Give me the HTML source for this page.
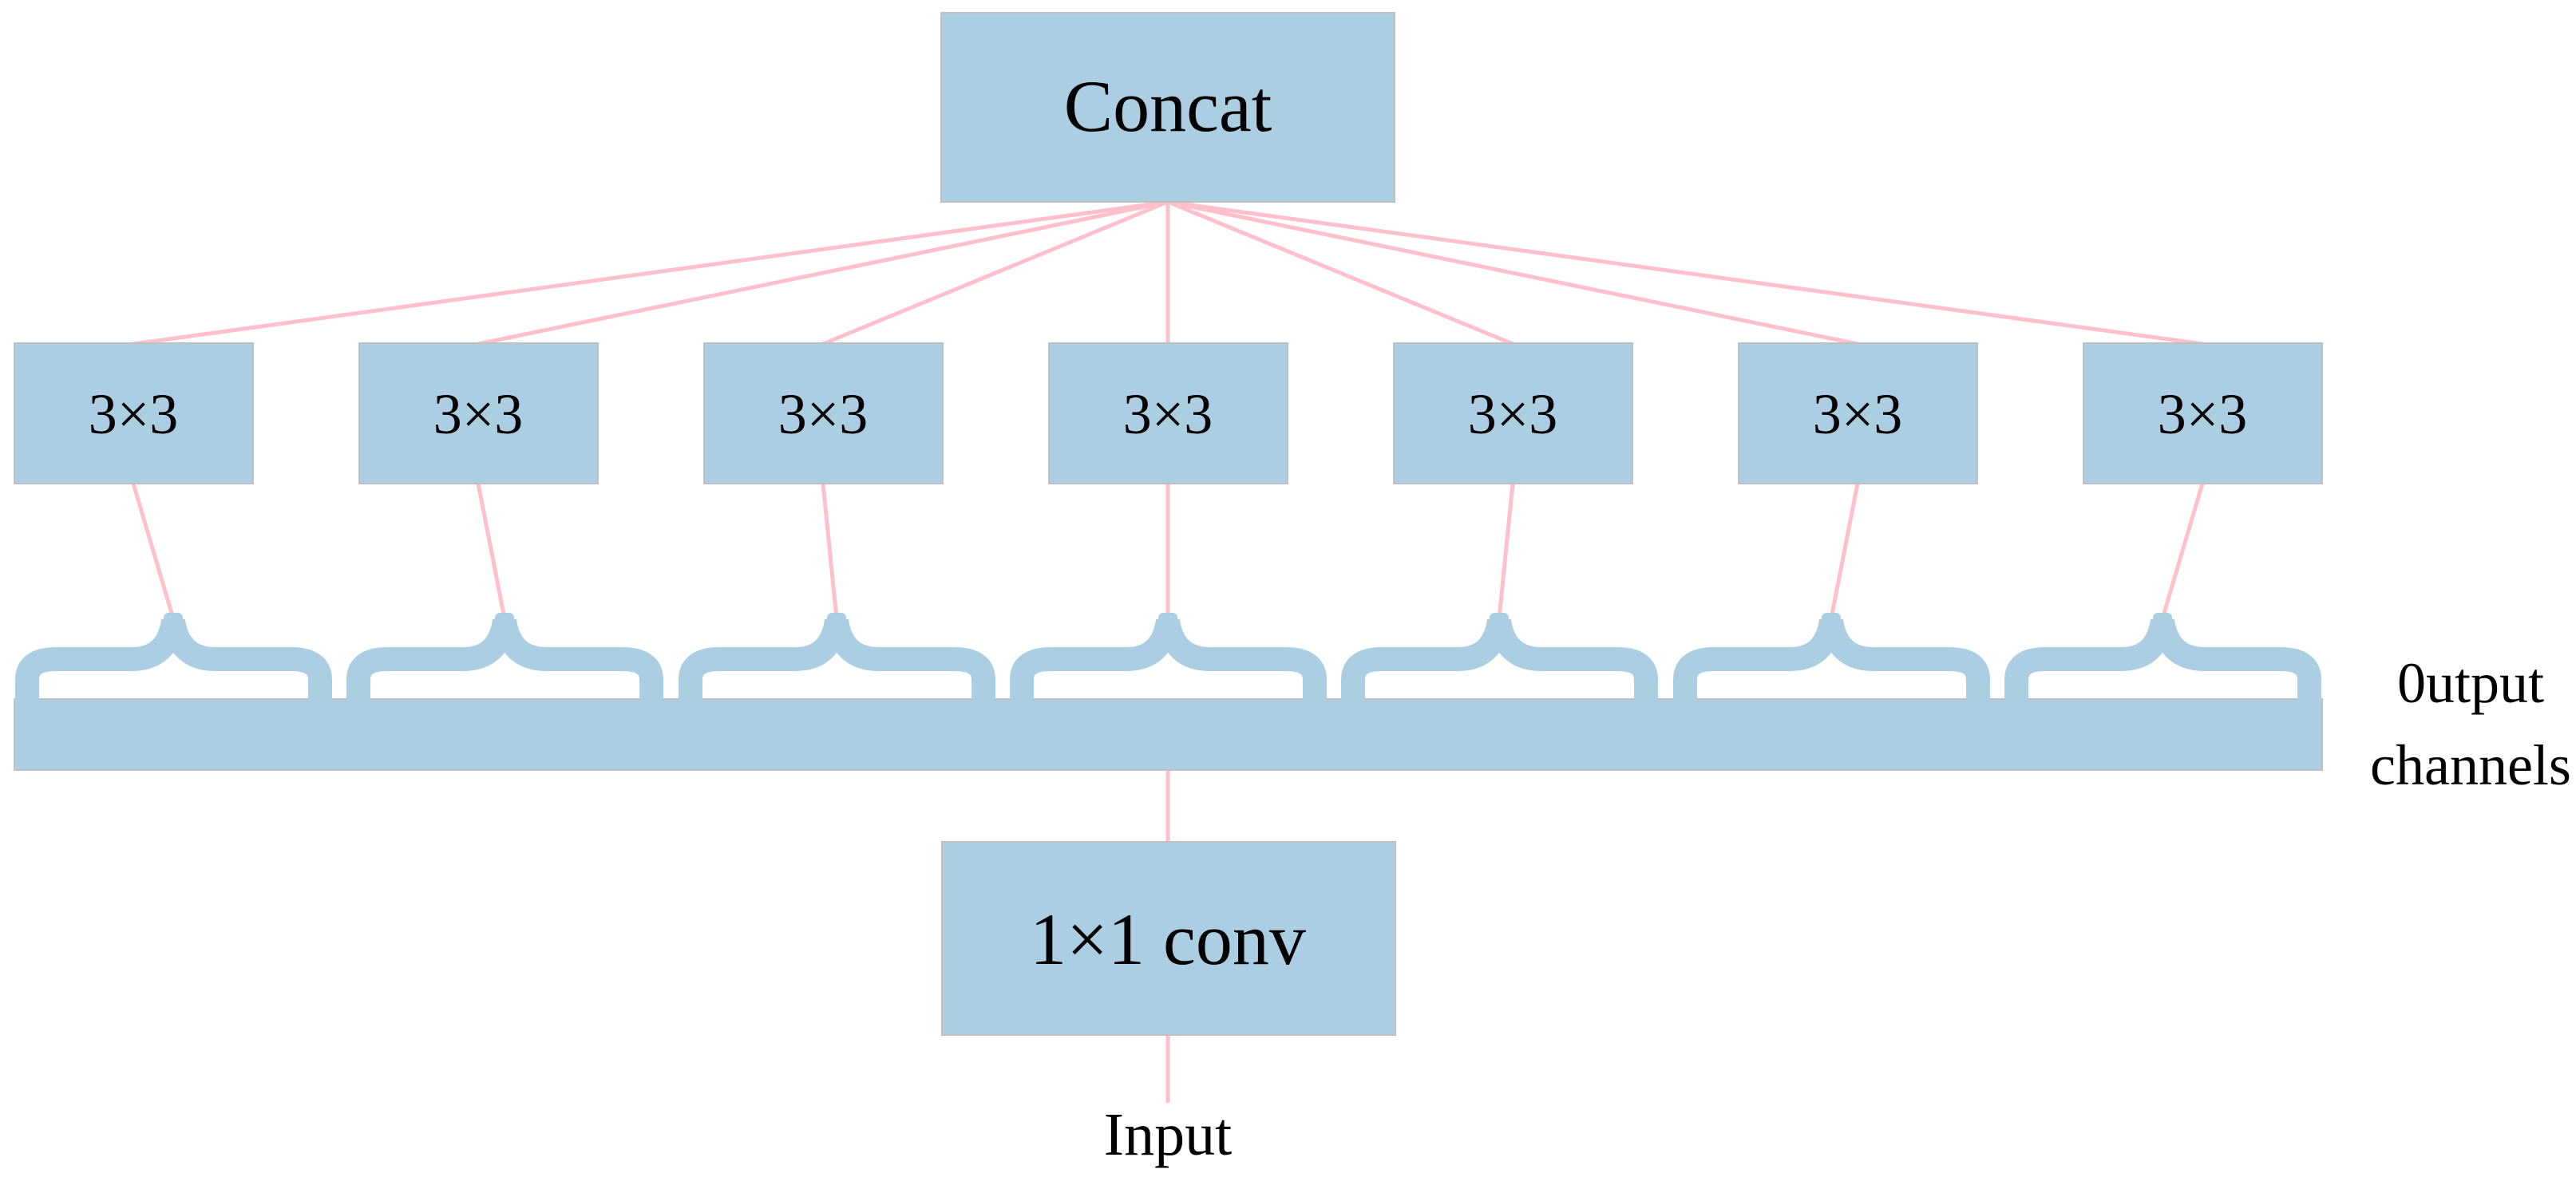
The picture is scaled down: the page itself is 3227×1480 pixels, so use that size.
<!DOCTYPE html>
<html><head><meta charset="utf-8"><style>html,body{margin:0;padding:0;background:#fff}</style></head>
<body>
<svg width="3227" height="1475" viewBox="0 0 3227 1475" xmlns="http://www.w3.org/2000/svg" font-family="Liberation Serif, serif">
<g stroke="#ffc0cb" stroke-width="5" fill="none">
<line x1="1463" y1="253" x2="167" y2="431"/>
<line x1="1463" y1="253" x2="599" y2="431"/>
<line x1="1463" y1="253" x2="1031" y2="431"/>
<line x1="1463" y1="253" x2="1463" y2="431"/>
<line x1="1463" y1="253" x2="1895" y2="431"/>
<line x1="1463" y1="253" x2="2327" y2="431"/>
<line x1="1463" y1="253" x2="2759" y2="431"/>
<line x1="167" y1="606" x2="217" y2="775"/>
<line x1="599" y1="606" x2="632" y2="775"/>
<line x1="1031" y1="606" x2="1048" y2="775"/>
<line x1="1463" y1="606" x2="1463" y2="775"/>
<line x1="1895" y1="606" x2="1878" y2="775"/>
<line x1="2327" y1="606" x2="2294" y2="775"/>
<line x1="2759" y1="606" x2="2709" y2="775"/>
<line x1="1463" y1="965" x2="1463" y2="1055"/>
<line x1="1463" y1="1297" x2="1463" y2="1382"/>
</g>
<g fill="#abcee3" stroke="#c0c0c0" stroke-width="2">
<rect x="1179" y="16" width="568" height="237"/>
<rect x="18" y="430" width="299" height="176"/>
<rect x="450" y="430" width="299" height="176"/>
<rect x="882" y="430" width="299" height="176"/>
<rect x="1314" y="430" width="299" height="176"/>
<rect x="1746" y="430" width="299" height="176"/>
<rect x="2178" y="430" width="299" height="176"/>
<rect x="2610" y="430" width="299" height="176"/>
<rect x="18" y="876" width="2891" height="89"/>
<rect x="1180" y="1055" width="568" height="242"/>
</g>
<g stroke="#abcee3" stroke-width="30" fill="none">
<path id="br" d="M34 877 L34 852 Q34 826 70 826 L165 826 Q210 826 217 778 Q224 826 270 826 L365 826 Q401 826 401 852 L401 877"/>
<use href="#br" x="415"/><use href="#br" x="831"/><use href="#br" x="1246"/>
<use href="#br" x="1661"/><use href="#br" x="2077"/><use href="#br" x="2492"/>
</g>
<g fill="#abcee3">
<rect x="205" y="768" width="24" height="14" rx="6"/>
<rect x="620" y="768" width="24" height="14" rx="6"/>
<rect x="1036" y="768" width="24" height="14" rx="6"/>
<rect x="1451" y="768" width="24" height="14" rx="6"/>
<rect x="1866" y="768" width="24" height="14" rx="6"/>
<rect x="2282" y="768" width="24" height="14" rx="6"/>
<rect x="2697" y="768" width="24" height="14" rx="6"/>
</g>
<g fill="#000" text-anchor="middle">
<text x="1463" y="164" font-size="92">Concat</text>
<text x="167" y="543" font-size="72">3×3</text>
<text x="599" y="543" font-size="72">3×3</text>
<text x="1031" y="543" font-size="72">3×3</text>
<text x="1463" y="543" font-size="72">3×3</text>
<text x="1895" y="543" font-size="72">3×3</text>
<text x="2327" y="543" font-size="72">3×3</text>
<text x="2759" y="543" font-size="72">3×3</text>
<text x="1463" y="1208" font-size="92">1×1 conv</text>
<text x="1463" y="1447" font-size="76">Input</text>
<text x="3095" y="880" font-size="72">0utput</text>
<text x="3095" y="983" font-size="72">channels</text>
</g>
</svg>
</body></html>
